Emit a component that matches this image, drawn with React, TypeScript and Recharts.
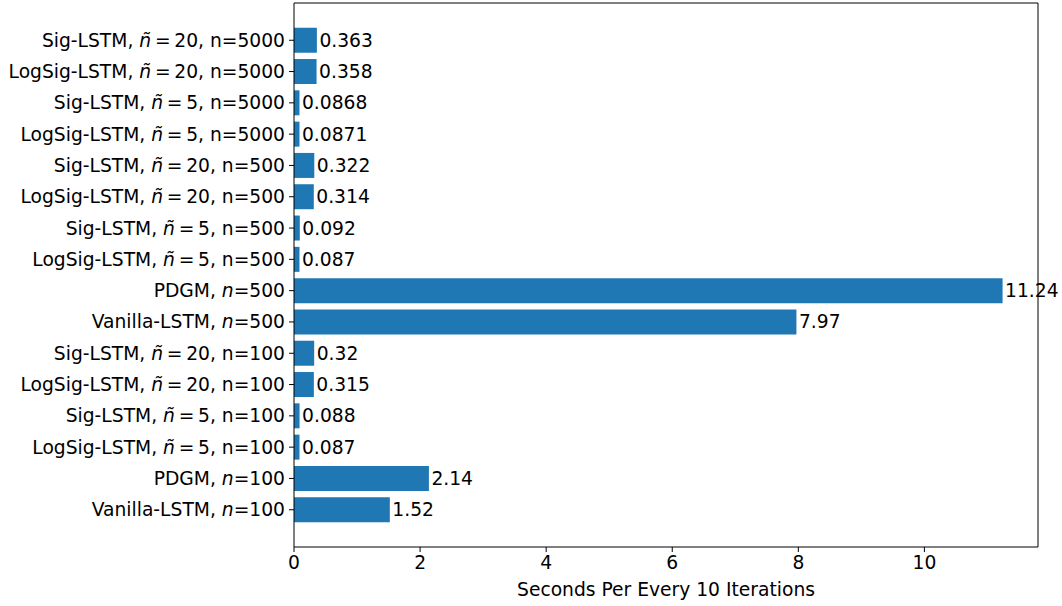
import React from "react";
import { BarChart, Bar, XAxis, YAxis, LabelList } from "recharts";

const methods = [
  "Sig-LSTM", "LogSig-LSTM", "Sig-LSTM", "LogSig-LSTM",
  "Sig-LSTM", "LogSig-LSTM", "Sig-LSTM", "LogSig-LSTM",
  "PDGM", "Vanilla-LSTM",
  "Sig-LSTM", "LogSig-LSTM", "Sig-LSTM", "LogSig-LSTM",
  "PDGM", "Vanilla-LSTM",
];
const tildeN: (number | null)[] = [20, 20, 5, 5, 20, 20, 5, 5, null, null, 20, 20, 5, 5, null, null];
const sampleN = [5000, 5000, 5000, 5000, 500, 500, 500, 500, 500, 500, 100, 100, 100, 100, 100, 100];
const seconds = [0.363, 0.358, 0.0868, 0.0871, 0.322, 0.314, 0.092, 0.087, 11.24, 7.97, 0.32, 0.315, 0.088, 0.087, 2.14, 1.52];
const xTicks = [0, 2, 4, 6, 8, 10];

const data = methods.map((m, i) => ({
  key: String(i),
  method: m,
  tilde: tildeN[i],
  n: sampleN[i],
  value: seconds[i],
}));

const FONT = "DejaVu Sans";
const FS = 18.7;
const COLOR = "#1f77b4";

const YTick = (props: any) => {
  const { x, y, payload } = props;
  const d = data[Number(payload.value)];
  return (
    <text x={x} y={y} dy={6.5} textAnchor="end" fontFamily={FONT} fontSize={FS} fill="#000">
      {d.tilde !== null ? (
        <>
          <tspan>{d.method + ", "}</tspan>
          <tspan fontStyle="italic">ñ</tspan>
          <tspan>{"\u2009=\u2009" + d.tilde + ", n=" + d.n}</tspan>
        </>
      ) : (
        <>
          <tspan>{d.method + ", "}</tspan>
          <tspan fontStyle="italic">n</tspan>
          <tspan>{"=" + d.n}</tspan>
        </>
      )}
    </text>
  );
};

const XTick = (props: any) => {
  const { x, y, payload } = props;
  return (
    <text x={x} y={y} dy={14} textAnchor="middle" fontFamily={FONT} fontSize={FS} fill="#000">
      {payload.value}
    </text>
  );
};

const ValueLabel = (props: any) => {
  const { x, y, width, height, value } = props;
  return (
    <text x={x + width + 2.5} y={y + height / 2} dy={6.5} textAnchor="start" fontFamily={FONT} fontSize={FS} fill="#000">
      {String(value)}
    </text>
  );
};

export default function App() {
  return (
    <div style={{ position: "absolute", left: 0, top: 0, width: 1062, height: 606, background: "#fff" }}>
      <BarChart
        width={1062}
        height={606}
        data={data}
        layout="vertical"
        margin={{ top: 2, right: 23, bottom: 0, left: 0 }}
        barCategoryGap="10%"
      >
        <XAxis
          xAxisId="bottom"
          type="number"
          domain={[0, 11.802]}
          ticks={xTicks}
          allowDataOverflow
          height={59}
          tickSize={5}
          tickMargin={3}
          tick={<XTick />}
          axisLine={{ stroke: "#000", strokeWidth: 1 }}
          tickLine={{ stroke: "#000", strokeWidth: 1 }}
          label={{ value: "Seconds Per Every 10 Iterations", position: "insideBottom", offset: 10, fontFamily: FONT, fontSize: FS, fill: "#000" }}
        />
        <XAxis
          xAxisId="top"
          orientation="top"
          type="number"
          domain={[0, 11.802]}
          height={1}
          tick={false}
          tickLine={false}
          axisLine={{ stroke: "#000", strokeWidth: 1 }}
        />
        <YAxis
          yAxisId="left"
          type="category"
          dataKey="key"
          width={294}
          padding={{ top: 21.6, bottom: 21.6 }}
          tickSize={5}
          tickMargin={4}
          interval={0}
          tick={<YTick />}
          axisLine={{ stroke: "#000", strokeWidth: 1 }}
          tickLine={{ stroke: "#000", strokeWidth: 1 }}
        />
        <YAxis
          yAxisId="right"
          orientation="right"
          type="category"
          dataKey="key"
          width={1}
          tick={false}
          tickLine={false}
          axisLine={{ stroke: "#000", strokeWidth: 1 }}
        />
        <Bar dataKey="value" xAxisId="bottom" yAxisId="left" fill={COLOR} isAnimationActive={false}>
          <LabelList dataKey="value" content={<ValueLabel />} />
        </Bar>
      </BarChart>
    </div>
  );
}
